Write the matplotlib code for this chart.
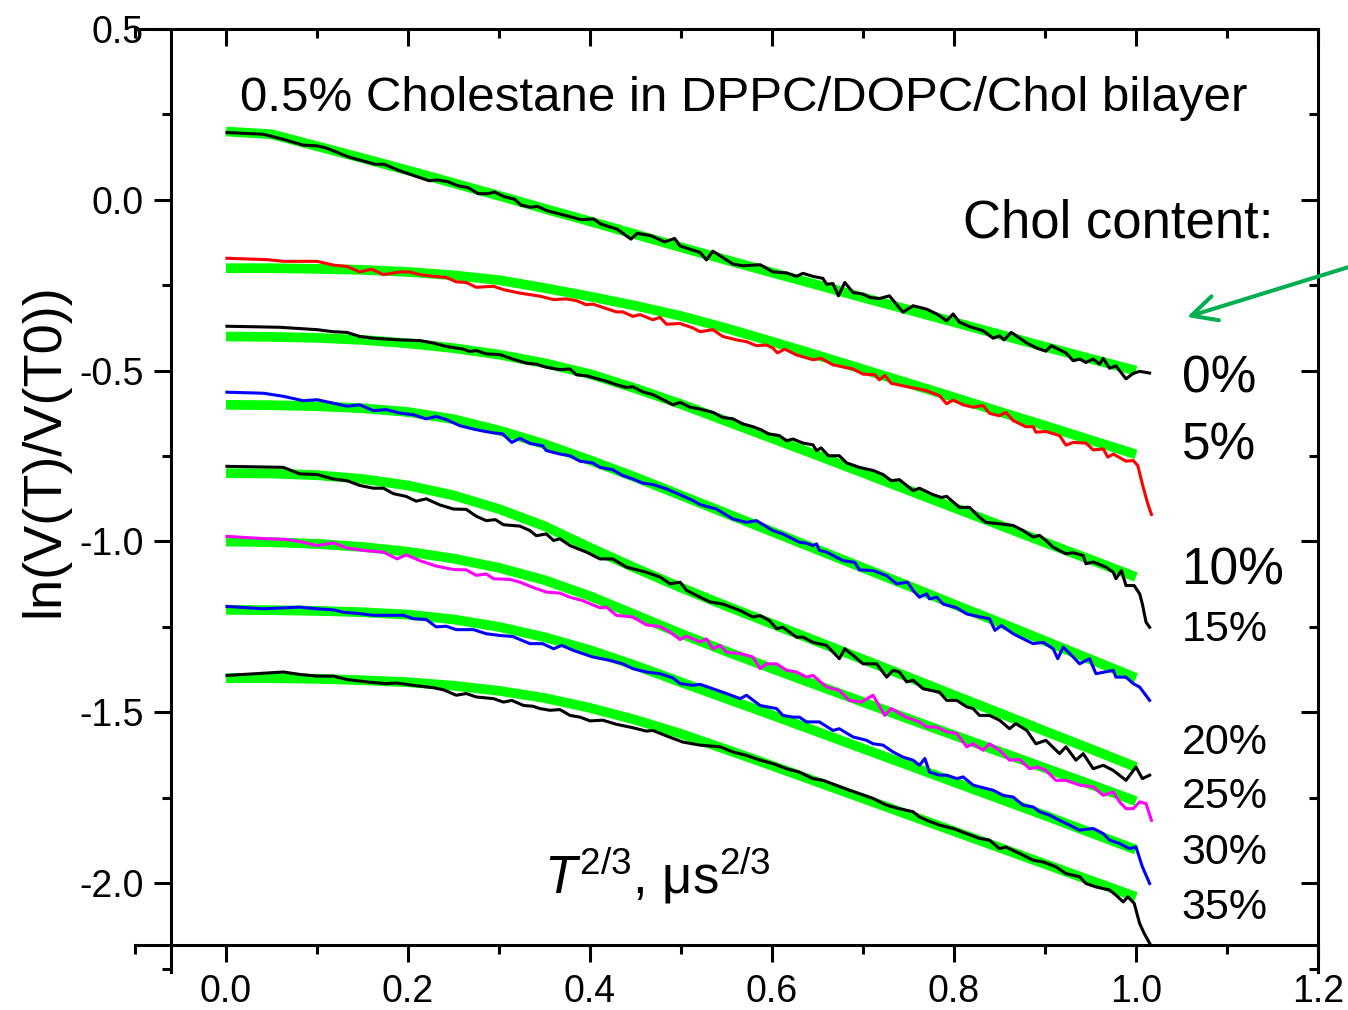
import matplotlib
matplotlib.use("Agg")
import matplotlib.pyplot as plt
from matplotlib.ticker import MultipleLocator, FormatStrFormatter, NullFormatter

plt.rcParams.update({
    "font.family": "Liberation Sans",
    "axes.unicode_minus": False,
    "mathtext.fontset": "custom",
    "mathtext.rm": "Liberation Sans",
    "mathtext.it": "Liberation Sans:italic",
})

# fitted echo-decay curves, sampled every 0.05 in T^(2/3)
x_fit = [0.00, 0.05, 0.10, 0.15, 0.20, 0.25, 0.30, 0.35, 0.40, 0.45, 0.50,
         0.55, 0.60, 0.65, 0.70, 0.75, 0.80, 0.85, 0.90, 0.95, 1.00]
fit_0 = [0.200, 0.192, 0.157, 0.122, 0.086, 0.049, 0.012, -0.026, -0.063, -0.101, -0.139,
         -0.176, -0.213, -0.249, -0.286, -0.322, -0.358, -0.394, -0.430, -0.465, -0.500]
fit_5 = [-0.200, -0.200, -0.202, -0.205, -0.211, -0.221, -0.235, -0.258, -0.283, -0.310, -0.340,
         -0.376, -0.415, -0.455, -0.496, -0.537, -0.578, -0.620, -0.661, -0.703, -0.745]
fit_10 = [-0.400, -0.401, -0.404, -0.410, -0.420, -0.434, -0.453, -0.478, -0.510, -0.552, -0.598,
          -0.648, -0.698, -0.748, -0.799, -0.850, -0.901, -0.952, -1.003, -1.053, -1.104]
fit_15 = [-0.600, -0.601, -0.604, -0.610, -0.621, -0.642, -0.675, -0.715, -0.762, -0.812, -0.865,
          -0.918, -0.971, -1.024, -1.077, -1.130, -1.184, -1.237, -1.291, -1.345, -1.399]
fit_20 = [-0.800, -0.801, -0.806, -0.817, -0.836, -0.865, -0.905, -0.955, -1.018, -1.078, -1.135,
          -1.189, -1.241, -1.293, -1.345, -1.397, -1.450, -1.502, -1.555, -1.607, -1.660]
fit_25 = [-1.000, -1.002, -1.007, -1.016, -1.030, -1.050, -1.077, -1.113, -1.160, -1.215, -1.270,
          -1.322, -1.372, -1.421, -1.470, -1.519, -1.567, -1.615, -1.663, -1.711, -1.760]
fit_30 = [-1.200, -1.201, -1.203, -1.207, -1.214, -1.228, -1.250, -1.280, -1.318, -1.363, -1.412,
          -1.460, -1.508, -1.557, -1.606, -1.655, -1.704, -1.753, -1.802, -1.852, -1.902]
fit_35 = [-1.400, -1.400, -1.402, -1.406, -1.412, -1.422, -1.437, -1.458, -1.487, -1.522, -1.563,
          -1.609, -1.656, -1.704, -1.752, -1.800, -1.848, -1.896, -1.944, -1.992, -2.040]

# measured decays, (T^(2/3), ln V) pairs
data_0 = [(0.001, 0.197), (0.041, 0.192), (0.063, 0.177), (0.085, 0.160), (0.100, 0.158), (0.111, 0.151),
          (0.134, 0.126), (0.164, 0.104), (0.174, 0.104), (0.189, 0.087), (0.223, 0.056), (0.233, 0.058),
          (0.244, 0.053), (0.255, 0.041), (0.266, 0.036), (0.277, 0.018), (0.288, 0.018), (0.295, 0.023),
          (0.306, 0.009), (0.317, 0.002), (0.324, -0.015), (0.335, -0.022), (0.342, -0.019), (0.353, -0.032),
          (0.375, -0.047), (0.390, -0.058), (0.404, -0.056), (0.412, -0.071), (0.430, -0.086), (0.445, -0.115),
          (0.452, -0.098), (0.467, -0.105), (0.482, -0.123), (0.493, -0.113), (0.499, -0.135), (0.521, -0.154),
          (0.528, -0.176), (0.535, -0.150), (0.557, -0.188), (0.568, -0.193), (0.587, -0.190), (0.601, -0.211),
          (0.616, -0.214), (0.627, -0.224), (0.634, -0.215), (0.645, -0.224), (0.656, -0.230), (0.660, -0.247),
          (0.667, -0.245), (0.673, -0.281), (0.680, -0.242), (0.689, -0.271), (0.700, -0.276), (0.708, -0.286),
          (0.718, -0.289), (0.729, -0.281), (0.744, -0.329), (0.755, -0.310), (0.770, -0.320), (0.781, -0.334),
          (0.792, -0.354), (0.799, -0.334), (0.806, -0.358), (0.817, -0.371), (0.832, -0.383), (0.843, -0.405),
          (0.850, -0.398), (0.855, -0.410), (0.863, -0.388), (0.880, -0.419), (0.891, -0.434), (0.901, -0.443),
          (0.907, -0.427), (0.923, -0.448), (0.931, -0.471), (0.938, -0.466), (0.945, -0.476), (0.953, -0.466),
          (0.960, -0.481), (0.964, -0.464), (0.971, -0.493), (0.978, -0.486), (0.989, -0.524), (0.997, -0.508),
          (1.004, -0.502), (1.015, -0.507)]
data_5 = [(0.001, -0.171), (0.045, -0.175), (0.063, -0.180), (0.100, -0.180), (0.118, -0.191), (0.133, -0.195),
          (0.147, -0.211), (0.160, -0.203), (0.173, -0.219), (0.191, -0.211), (0.202, -0.211), (0.213, -0.219),
          (0.228, -0.224), (0.242, -0.227), (0.253, -0.240), (0.264, -0.242), (0.275, -0.256), (0.294, -0.253),
          (0.305, -0.263), (0.323, -0.273), (0.345, -0.282), (0.360, -0.292), (0.374, -0.290), (0.385, -0.295),
          (0.396, -0.307), (0.403, -0.305), (0.429, -0.328), (0.436, -0.328), (0.447, -0.341), (0.455, -0.336),
          (0.469, -0.351), (0.477, -0.344), (0.484, -0.364), (0.499, -0.362), (0.513, -0.375), (0.521, -0.386),
          (0.535, -0.380), (0.546, -0.400), (0.561, -0.410), (0.572, -0.415), (0.583, -0.427), (0.594, -0.425),
          (0.601, -0.434), (0.606, -0.448), (0.614, -0.437), (0.627, -0.454), (0.645, -0.468), (0.654, -0.464),
          (0.667, -0.483), (0.689, -0.495), (0.700, -0.510), (0.713, -0.512), (0.718, -0.527), (0.724, -0.514),
          (0.731, -0.537), (0.747, -0.546), (0.769, -0.558), (0.784, -0.573), (0.792, -0.597), (0.799, -0.586),
          (0.810, -0.600), (0.821, -0.607), (0.832, -0.602), (0.839, -0.625), (0.850, -0.632), (0.857, -0.622),
          (0.865, -0.646), (0.879, -0.664), (0.887, -0.664), (0.890, -0.680), (0.901, -0.678), (0.916, -0.690),
          (0.923, -0.718), (0.931, -0.710), (0.945, -0.712), (0.953, -0.732), (0.964, -0.729), (0.969, -0.753),
          (0.975, -0.744), (0.989, -0.765), (0.997, -0.763), (1.002, -0.778), (1.007, -0.832), (1.013, -0.890),
          (1.017, -0.921)]
data_10 = [(0.001, -0.370), (0.059, -0.373), (0.100, -0.380), (0.118, -0.386), (0.133, -0.388), (0.147, -0.400),
           (0.162, -0.405), (0.191, -0.410), (0.213, -0.412), (0.228, -0.419), (0.242, -0.429), (0.261, -0.437),
           (0.268, -0.444), (0.275, -0.441), (0.286, -0.451), (0.301, -0.453), (0.315, -0.466), (0.330, -0.478),
           (0.341, -0.481), (0.352, -0.490), (0.367, -0.497), (0.378, -0.495), (0.385, -0.512), (0.396, -0.515),
           (0.418, -0.531), (0.429, -0.541), (0.440, -0.549), (0.447, -0.547), (0.458, -0.562), (0.469, -0.570),
           (0.484, -0.590), (0.491, -0.600), (0.499, -0.593), (0.510, -0.607), (0.520, -0.612), (0.535, -0.622),
           (0.546, -0.637), (0.557, -0.641), (0.568, -0.656), (0.579, -0.664), (0.588, -0.673), (0.596, -0.685),
           (0.608, -0.690), (0.616, -0.705), (0.623, -0.700), (0.634, -0.712), (0.645, -0.717), (0.649, -0.734),
           (0.654, -0.726), (0.662, -0.749), (0.674, -0.749), (0.682, -0.770), (0.696, -0.783), (0.711, -0.792),
           (0.722, -0.804), (0.731, -0.822), (0.740, -0.819), (0.755, -0.851), (0.762, -0.844), (0.777, -0.863),
           (0.786, -0.871), (0.792, -0.868), (0.806, -0.900), (0.817, -0.900), (0.828, -0.929), (0.835, -0.944),
           (0.850, -0.948), (0.865, -0.953), (0.876, -0.968), (0.887, -0.987), (0.894, -0.982), (0.901, -0.997),
           (0.909, -1.017), (0.923, -1.036), (0.931, -1.033), (0.942, -1.041), (0.945, -1.065), (0.953, -1.060),
           (0.967, -1.075), (0.975, -1.090), (0.978, -1.109), (0.984, -1.085), (0.989, -1.129), (0.998, -1.129),
           (1.004, -1.153), (1.007, -1.183), (1.011, -1.236), (1.015, -1.251)]
data_15 = [(0.001, -0.563), (0.041, -0.566), (0.063, -0.575), (0.085, -0.588), (0.100, -0.585), (0.114, -0.593),
           (0.133, -0.604), (0.147, -0.600), (0.162, -0.617), (0.176, -0.614), (0.191, -0.624), (0.206, -0.629),
           (0.220, -0.641), (0.231, -0.634), (0.242, -0.643), (0.257, -0.661), (0.272, -0.671), (0.283, -0.677),
           (0.294, -0.682), (0.304, -0.685), (0.314, -0.710), (0.323, -0.698), (0.334, -0.713), (0.348, -0.720),
           (0.352, -0.734), (0.367, -0.744), (0.378, -0.749), (0.389, -0.765), (0.403, -0.770), (0.411, -0.783),
           (0.425, -0.790), (0.436, -0.807), (0.447, -0.817), (0.458, -0.829), (0.469, -0.833), (0.484, -0.846),
           (0.499, -0.863), (0.513, -0.880), (0.521, -0.892), (0.539, -0.905), (0.557, -0.934), (0.572, -0.944),
           (0.583, -0.939), (0.601, -0.968), (0.612, -0.978), (0.630, -1.002), (0.638, -1.005), (0.645, -1.012),
           (0.649, -1.007), (0.652, -1.026), (0.660, -1.031), (0.678, -1.056), (0.691, -1.061), (0.696, -1.083),
           (0.711, -1.085), (0.726, -1.100), (0.737, -1.124), (0.749, -1.119), (0.755, -1.143), (0.762, -1.163),
           (0.770, -1.153), (0.773, -1.168), (0.781, -1.163), (0.788, -1.183), (0.803, -1.194), (0.814, -1.212),
           (0.829, -1.221), (0.839, -1.226), (0.845, -1.260), (0.852, -1.246), (0.865, -1.270), (0.880, -1.290),
           (0.887, -1.299), (0.898, -1.295), (0.909, -1.314), (0.914, -1.343), (0.920, -1.309), (0.931, -1.338),
           (0.938, -1.358), (0.949, -1.343), (0.956, -1.387), (0.975, -1.377), (0.978, -1.397), (0.989, -1.397),
           (0.997, -1.416), (1.004, -1.426), (1.015, -1.465)]
data_20 = [(0.001, -0.780), (0.063, -0.783), (0.081, -0.802), (0.100, -0.804), (0.118, -0.817), (0.133, -0.822),
           (0.147, -0.836), (0.162, -0.844), (0.173, -0.844), (0.184, -0.860), (0.198, -0.868), (0.209, -0.882),
           (0.220, -0.875), (0.235, -0.893), (0.250, -0.905), (0.264, -0.906), (0.275, -0.926), (0.286, -0.939),
           (0.296, -0.936), (0.305, -0.951), (0.323, -0.955), (0.334, -0.968), (0.341, -0.983), (0.352, -0.978),
           (0.360, -0.997), (0.367, -0.992), (0.378, -1.012), (0.396, -1.031), (0.411, -1.051), (0.425, -1.051),
           (0.440, -1.075), (0.462, -1.090), (0.477, -1.104), (0.488, -1.124), (0.499, -1.119), (0.506, -1.143),
           (0.521, -1.163), (0.532, -1.177), (0.546, -1.183), (0.565, -1.202), (0.579, -1.221), (0.587, -1.217),
           (0.597, -1.231), (0.605, -1.255), (0.612, -1.251), (0.627, -1.280), (0.634, -1.280), (0.645, -1.295),
           (0.660, -1.304), (0.674, -1.343), (0.680, -1.314), (0.689, -1.333), (0.700, -1.358), (0.715, -1.358),
           (0.726, -1.397), (0.733, -1.377), (0.740, -1.382), (0.748, -1.411), (0.755, -1.406), (0.766, -1.431),
           (0.784, -1.441), (0.792, -1.465), (0.803, -1.465), (0.814, -1.484), (0.821, -1.489), (0.828, -1.509),
           (0.839, -1.509), (0.850, -1.523), (0.861, -1.548), (0.868, -1.533), (0.880, -1.553), (0.890, -1.592),
           (0.901, -1.582), (0.916, -1.621), (0.923, -1.601), (0.934, -1.640), (0.942, -1.621), (0.953, -1.665),
           (0.964, -1.655), (0.975, -1.670), (0.989, -1.699), (1.000, -1.660), (1.007, -1.694), (1.015, -1.684)]
data_25 = [(0.001, -0.985), (0.045, -0.992), (0.066, -0.994), (0.081, -1.000), (0.100, -1.012), (0.118, -1.004),
           (0.133, -1.019), (0.151, -1.026), (0.173, -1.031), (0.188, -1.051), (0.198, -1.039), (0.213, -1.056),
           (0.231, -1.072), (0.250, -1.082), (0.264, -1.083), (0.275, -1.099), (0.286, -1.095), (0.294, -1.109),
           (0.312, -1.111), (0.323, -1.119), (0.337, -1.134), (0.352, -1.148), (0.367, -1.151), (0.378, -1.163),
           (0.392, -1.173), (0.400, -1.182), (0.411, -1.194), (0.418, -1.192), (0.429, -1.216), (0.447, -1.221),
           (0.462, -1.244), (0.477, -1.249), (0.488, -1.265), (0.499, -1.287), (0.506, -1.277), (0.521, -1.294),
           (0.528, -1.285), (0.535, -1.314), (0.543, -1.304), (0.550, -1.324), (0.565, -1.328), (0.579, -1.338),
           (0.587, -1.372), (0.594, -1.358), (0.605, -1.358), (0.616, -1.377), (0.627, -1.382), (0.638, -1.397),
           (0.645, -1.392), (0.660, -1.426), (0.674, -1.436), (0.685, -1.465), (0.698, -1.470), (0.711, -1.450),
           (0.724, -1.509), (0.731, -1.489), (0.747, -1.514), (0.762, -1.528), (0.770, -1.543), (0.781, -1.543),
           (0.792, -1.557), (0.803, -1.562), (0.814, -1.601), (0.821, -1.592), (0.832, -1.611), (0.839, -1.592),
           (0.850, -1.611), (0.861, -1.640), (0.872, -1.638), (0.883, -1.665), (0.892, -1.660), (0.901, -1.670),
           (0.912, -1.699), (0.923, -1.699), (0.938, -1.713), (0.953, -1.718), (0.964, -1.743), (0.975, -1.733),
           (0.982, -1.762), (0.989, -1.782), (0.997, -1.782), (1.004, -1.762), (1.011, -1.767), (1.017, -1.816)]
data_30 = [(0.001, -1.190), (0.041, -1.197), (0.081, -1.192), (0.100, -1.197), (0.118, -1.200), (0.129, -1.207),
           (0.147, -1.211), (0.162, -1.216), (0.176, -1.216), (0.195, -1.216), (0.206, -1.226), (0.220, -1.228),
           (0.231, -1.250), (0.242, -1.248), (0.253, -1.258), (0.272, -1.258), (0.286, -1.270), (0.301, -1.275),
           (0.315, -1.278), (0.334, -1.299), (0.348, -1.299), (0.360, -1.314), (0.369, -1.304), (0.382, -1.319),
           (0.403, -1.338), (0.422, -1.348), (0.436, -1.358), (0.447, -1.372), (0.462, -1.382), (0.477, -1.387),
           (0.491, -1.399), (0.499, -1.416), (0.513, -1.421), (0.521, -1.418), (0.535, -1.431), (0.550, -1.445),
           (0.565, -1.460), (0.572, -1.450), (0.587, -1.480), (0.605, -1.489), (0.612, -1.509), (0.623, -1.514),
           (0.630, -1.514), (0.638, -1.528), (0.652, -1.528), (0.667, -1.553), (0.674, -1.548), (0.689, -1.572),
           (0.704, -1.582), (0.711, -1.592), (0.722, -1.596), (0.733, -1.616), (0.744, -1.631), (0.755, -1.640),
           (0.762, -1.655), (0.768, -1.635), (0.773, -1.675), (0.784, -1.684), (0.792, -1.684), (0.803, -1.694),
           (0.810, -1.689), (0.821, -1.713), (0.828, -1.718), (0.843, -1.728), (0.854, -1.743), (0.865, -1.748),
           (0.876, -1.772), (0.887, -1.777), (0.894, -1.791), (0.905, -1.801), (0.916, -1.816), (0.927, -1.830),
           (0.938, -1.845), (0.953, -1.840), (0.964, -1.855), (0.971, -1.874), (0.982, -1.884), (0.993, -1.899),
           (1.000, -1.894), (1.007, -1.952), (1.015, -2.001)]
data_35 = [(0.001, -1.392), (0.063, -1.382), (0.081, -1.389), (0.100, -1.394), (0.118, -1.394), (0.133, -1.404),
           (0.155, -1.411), (0.176, -1.416), (0.187, -1.414), (0.206, -1.421), (0.228, -1.428), (0.239, -1.434),
           (0.253, -1.450), (0.264, -1.445), (0.275, -1.455), (0.294, -1.460), (0.305, -1.470), (0.314, -1.465),
           (0.327, -1.480), (0.337, -1.482), (0.345, -1.489), (0.356, -1.494), (0.367, -1.492), (0.378, -1.509),
           (0.389, -1.514), (0.400, -1.525), (0.414, -1.523), (0.429, -1.535), (0.447, -1.545), (0.462, -1.555),
           (0.469, -1.553), (0.484, -1.569), (0.502, -1.587), (0.521, -1.596), (0.543, -1.601), (0.557, -1.616),
           (0.572, -1.626), (0.587, -1.640), (0.601, -1.650), (0.616, -1.665), (0.630, -1.675), (0.645, -1.694),
           (0.656, -1.699), (0.670, -1.713), (0.685, -1.728), (0.696, -1.738), (0.711, -1.752), (0.726, -1.772),
           (0.740, -1.782), (0.755, -1.791), (0.762, -1.806), (0.770, -1.816), (0.784, -1.830), (0.799, -1.840),
           (0.814, -1.855), (0.828, -1.869), (0.839, -1.874), (0.850, -1.899), (0.857, -1.894), (0.868, -1.908),
           (0.876, -1.918), (0.887, -1.933), (0.898, -1.938), (0.912, -1.952), (0.923, -1.972), (0.938, -1.981),
           (0.945, -2.001), (0.956, -2.011), (0.971, -2.020), (0.978, -2.035), (0.986, -2.055), (0.991, -2.040),
           (0.998, -2.059), (1.004, -2.118), (1.009, -2.147), (1.015, -2.176)]

chol_labels = ["0%", "5%", "10%", "15%", "20%", "25%", "30%", "35%"]

fits = [fit_0, fit_5, fit_10, fit_15, fit_20, fit_25, fit_30, fit_35]
series = [data_0, data_5, data_10, data_15, data_20, data_25, data_30, data_35]
line_colors = ["black", "#ff0000", "black", "#0000ff", "black", "#ff00ff", "#0000ff", "black"]

W, H = 1348, 1010
fig = plt.figure(figsize=(W / 100, H / 100), dpi=100)
ax = fig.add_axes([135 / W, 38 / H, (1318 - 135) / W, (972 - 29) / H])
ax.set_xlim(-0.1, 1.2)
ax.set_ylim(-2.26, 0.5)

for f in fits:
    ax.plot(x_fit, f, color="#00ff00", lw=7, solid_capstyle="butt", zorder=2)
for pts, c in zip(series, line_colors):
    xs, ys = zip(*pts)
    ax.plot(xs, ys, color=c, lw=2.2, zorder=3)

# Origin-style frame: offset left/bottom axes, inward ticks on top/right
ax.spines["left"].set_position(("data", -0.06))
ax.spines["bottom"].set_position(("data", -2.18))
ax.spines["top"].set_visible(False)
ax.spines["right"].set_visible(False)
for s in ("left", "bottom"):
    ax.spines[s].set_linewidth(2.2)

ax.xaxis.set_major_locator(MultipleLocator(0.2))
ax.xaxis.set_minor_locator(MultipleLocator(0.1))
ax.yaxis.set_major_locator(MultipleLocator(0.5))
ax.yaxis.set_minor_locator(MultipleLocator(0.25))
ax.xaxis.set_major_formatter(FormatStrFormatter("%.1f"))
ax.yaxis.set_major_formatter(FormatStrFormatter("%.1f"))
ax.tick_params(which="both", direction="out", width=2.2, labelsize=27)
ax.tick_params(which="major", length=12)
ax.tick_params(which="minor", length=6.5)
ax.tick_params(axis="x", pad=9)
ax.tick_params(axis="y", pad=8)

top = ax.secondary_xaxis("top")
top.xaxis.set_major_locator(MultipleLocator(0.2))
top.xaxis.set_minor_locator(MultipleLocator(0.1))
top.xaxis.set_major_formatter(NullFormatter())
top.tick_params(which="both", direction="in", width=2.2)
top.tick_params(which="major", length=12)
top.tick_params(which="minor", length=6.5)
top.spines["top"].set_linewidth(2.2)

right = ax.secondary_yaxis("right")
right.yaxis.set_major_locator(MultipleLocator(0.5))
right.yaxis.set_minor_locator(MultipleLocator(0.25))
right.yaxis.set_major_formatter(NullFormatter())
right.tick_params(which="both", direction="in", width=2.2)
right.tick_params(which="major", length=12)
right.tick_params(which="minor", length=6.5)
right.spines["right"].set_linewidth(2.2)

fig.text(44 / W, 1 - 450 / H, "ln(V(T)/V(T0))", rotation=90,
         ha="center", va="center", fontsize=39)

ax.text(0.015, 0.259, "0.5% Cholestane in DPPC/DOPC/Chol bilayer", fontsize=35.5,
        ha="left", va="baseline")
ax.text(0.8095, -0.111, "Chol content:", fontsize=38, ha="left", va="baseline")
ax.text(0.35, -2.029, r"$T^{2/3}$, μs$^{2/3}$", fontsize=38, ha="left", va="baseline")

label_y = [-0.565, -0.761, -1.127, -1.291, -1.621, -1.779, -1.943, -2.106]
label_size = [37, 37, 37, 31, 31, 31, 31, 31]
for lab, yy, fs in zip(chol_labels, label_y, label_size):
    ax.text(1.05, yy, lab, fontsize=fs, ha="left", va="baseline")

ax.annotate("", xy=(1187, H - 317), xycoords="figure pixels",
            xytext=(1365, H - 262), textcoords="figure pixels",
            arrowprops=dict(arrowstyle="->,head_length=0.9,head_width=0.45",
                            color="#00b050", lw=2.9, mutation_scale=20,
                            shrinkA=0, shrinkB=0),
            annotation_clip=False)

fig.savefig("out.png", dpi=100)
